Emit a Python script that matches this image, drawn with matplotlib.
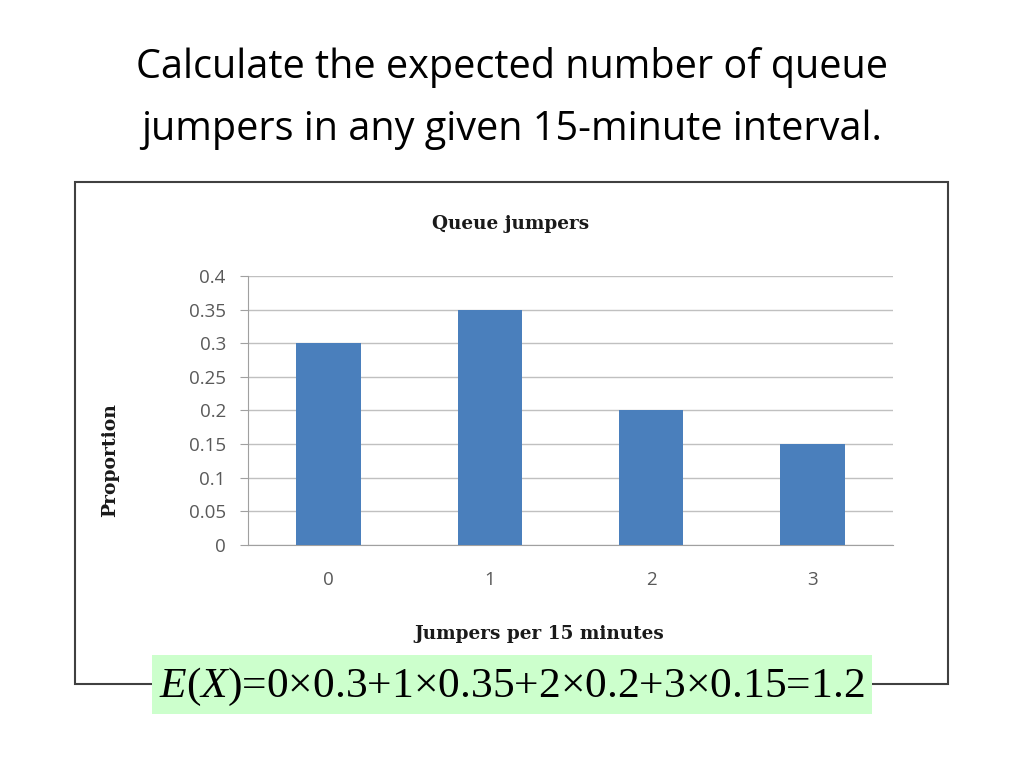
import matplotlib.pyplot as plt
from matplotlib.patches import Rectangle

# data
jumpers = [0, 1, 2, 3]
proportion = [0.3, 0.35, 0.2, 0.15]
yticks = [0, 0.05, 0.1, 0.15, 0.2, 0.25, 0.3, 0.35, 0.4]
ytick_labels = ["0", "0.05", "0.1", "0.15", "0.2", "0.25", "0.3", "0.35", "0.4"]

plt.rcParams['mathtext.fontset'] = 'custom'
plt.rcParams['mathtext.rm'] = 'Liberation Serif'
plt.rcParams['mathtext.it'] = 'Liberation Serif:italic'

fig = plt.figure(figsize=(10.24, 7.68), dpi=100)

# slide title
fig.text(0.5, 0.912, "Calculate the expected number of queue", ha='center', va='center',
         fontsize=28.5, family='Open Sans', color='black')
fig.text(0.5, 0.831, "jumpers in any given 15-minute interval.", ha='center', va='center',
         fontsize=28.5, family='Open Sans', color='black')

# chart border
fig.patches.append(Rectangle((0.0732, 0.1094), 0.8525, 0.6536, transform=fig.transFigure,
                             fill=False, edgecolor='#404040', linewidth=1.5, zorder=0))

ax = fig.add_axes([0.2422, 0.2904, 0.6299, 0.3503])
ax.bar(jumpers, proportion, width=0.4, color='#4a7fbc', zorder=3)
ax.set_xlim(-0.5, 3.5)
ax.set_ylim(0, 0.4)
ax.set_yticks(yticks)
ax.set_yticklabels(ytick_labels)
ax.set_xticks(jumpers)
ax.set_xticklabels([str(j) for j in jumpers])
ax.grid(axis='y', color='#c0c0c0', linewidth=1, zorder=0)
for s in ['top', 'right']:
    ax.spines[s].set_visible(False)
ax.spines['left'].set_color('#a0a0a0')
ax.spines['bottom'].set_color('#a0a0a0')
ax.tick_params(axis='y', length=6, color='#a0a0a0', pad=10, labelsize=13.5, labelcolor='#595959')
ax.tick_params(axis='x', length=0, pad=19, labelsize=13.5, labelcolor='#595959')
for lab in ax.get_xticklabels() + ax.get_yticklabels():
    lab.set_family('Open Sans')

fig.text(0.499, 0.708, "Queue jumpers", ha='center', va='center', fontsize=13.3,
         fontweight='bold', family='DejaVu Serif', color='#1a1a1a')
fig.text(0.527, 0.174, "Jumpers per 15 minutes", ha='center', va='center', fontsize=13.3,
         fontweight='bold', family='DejaVu Serif', color='#1a1a1a')
fig.text(0.108, 0.401, "Proportion", ha='center', va='center', rotation=90, fontsize=13.5,
         fontweight='bold', family='DejaVu Serif', color='#1a1a1a')

# expected value formula box
fig.patches.append(Rectangle((0.1484, 0.0703), 0.7031, 0.0768, transform=fig.transFigure,
                             facecolor='#ccffcc', edgecolor='none', zorder=1))
fig.text(0.5, 0.106, "$E$($X$)=0×0.3+1×0.35+2×0.2+3×0.15=1.2",
         ha='center', va='center', fontsize=31.3, family='Liberation Serif', color='black')

fig.savefig("out.png", dpi=100)
